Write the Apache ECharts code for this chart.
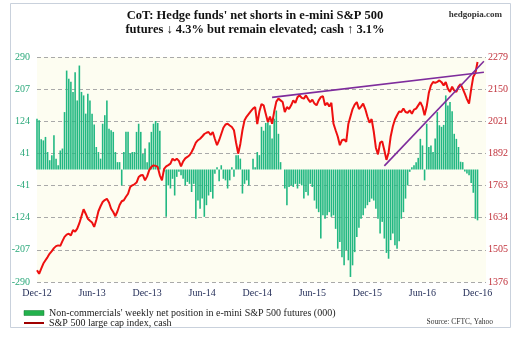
<!DOCTYPE html>
<html>
<head>
<meta charset="utf-8">
<script src="https://cdn.jsdelivr.net/npm/echarts@6/dist/echarts.min.js"></script>
<style>
html,body{margin:0;padding:0;background:#fff;}
#chart{width:520px;height:338px;}
</style>
</head>
<body>
<div id="chart"></div>
<script>
// ---------- data ----------
const weekCount = 213;          // weekly categories on the x axis (from mid-Dec 2012)
const startWeek = Date.UTC(2012, 11, 14);
const monthNames = ['Jan','Feb','Mar','Apr','May','Jun','Jul','Aug','Sep','Oct','Nov','Dec'];
const categories = [];
for (let i = 0; i < weekCount; i++) {
  categories.push(new Date(startWeek + i * 7 * 86400000).toISOString().slice(0, 10));
}

const leftTicks  = [-290, -207, -124, -41, 41, 124, 207, 290];
const rightTicks = [1376, 1505, 1634, 1763, 1892, 2021, 2150, 2279];

// Non-commercials' weekly net position (000)
const netPosition = [
  131,127,78,75,84,45,24,37,88,28,
  11,49,54,148,255,234,226,200,251,178,
  268,200,191,144,195,178,144,116,58,45,
  28,118,140,178,105,101,97,45,19,19,
  -41,45,97,97,41,45,45,97,118,97,
  40,54,19,70,97,118,125,120,100,0,
  -5,-122,-41,-49,-24,-67,-19,-6,-15,-24,
  -41,-32,-37,-58,-37,-127,-80,-101,-75,-122,
  -92,-67,-58,-75,-11,6,-30,11,-24,-28,
  -49,-28,6,-19,37,37,28,-62,-37,-28,
  -41,0,28,6,45,37,110,100,120,122,
  114,80,131,152,92,19,0,-49,-92,-45,
  -41,-45,-37,-49,-37,-41,-75,-58,-67,-37,
  -45,-80,-101,-110,-178,-118,-127,-118,-110,-122,
  -118,-153,-204,-187,-226,-247,-208,-234,-277,-247,
  -213,-174,-150,-127,-118,-100,-92,-84,-75,-80,
  -101,-127,-165,-135,-178,-215,-230,-182,-165,-195,
  -204,-185,-127,-110,-75,-41,-6,6,11,19,
  30,79,62,-28,118,58,62,45,80,148,
  114,110,115,191,165,174,150,92,79,58,
  20,19,-5,-10,-15,-35,-60,-127,-131
];

// S&P 500 large cap index, cash (weekly)
const spx = [
  1423,1409,1430,1450,1463,1476,1490,1500,1512,1520,
  1523,1521,1540,1557,1566,1570,1563,1584,1578,1590,
  1612,1640,1668,1650,1630,1622,1615,1597,1625,1660,
  1680,1697,1705,1710,1695,1670,1657,1640,1660,1685,
  1700,1704,1718,1730,1757,1764,1768,1775,1797,1804,
  1805,1784,1800,1825,1838,1844,1842,1838,1804,1784,
  1830,1840,1845,1851,1871,1864,1871,1862,1840,1860,
  1872,1878,1885,1898,1915,1935,1945,1951,1960,1970,
  1975,1978,1966,1978,1950,1925,1945,1970,1995,2008,
  2011,2004,1998,1985,1935,1891,1930,1985,2025,2040,
  2051,2062,2072,2078,2010,2060,2090,2085,2051,2018,
  2040,2011,2060,2100,2112,2105,2098,2058,2078,2070,
  2085,2105,2095,2118,2125,2115,2112,2125,2110,2098,
  2108,2092,2085,2105,2118,2122,2085,2095,2080,2095,
  2011,1985,1960,1925,1945,1948,1938,2010,2040,2070,
  2088,2098,2070,2080,2092,2070,2040,2015,2030,1980,
  1915,1888,1935,1940,1905,1866,1895,1960,2000,2028,
  2045,2060,2058,2072,2058,2055,2065,2051,2068,2072,
  2085,2098,2080,2045,2080,2135,2165,2179,2175,2179,
  2185,2178,2165,2178,2152,2139,2160,2145,2139,2160,
  2170,2152,2132,2110,2092,2150,2200,2215,2259
];

// purple trend lines: [week index, index level]
const upperTrend = [[111, 2117], [211, 2218]];
const lowerTrend = [[164, 1842], [211, 2262]];

const barName  = "Non-commercials' weekly net position in e-mini S&P 500 futures (000)";
const lineName = 'S&P 500 large cap index, cash';

// ---------- chart ----------
const serif = '"Liberation Serif", "Times New Roman", serif';
const chart = echarts.init(document.getElementById('chart'), null, {renderer: 'canvas'});

chart.setOption({
  animation: false,
  backgroundColor: '#ffffff',
  grid: {
    left: 37, right: 34, top: 57, bottom: 56,
    show: true, backgroundColor: '#fdfdf1', borderWidth: 0
  },
  legend: {
    orient: 'vertical', left: 18, top: 303,
    itemWidth: 20, itemHeight: 5, itemGap: 0,
    textStyle: {fontFamily: serif, fontSize: 10, color: '#222', lineHeight: 10},
    data: [
      {name: barName, icon: 'rect', itemStyle: {color: '#22b14c', borderColor: '#147a33', borderWidth: 0.5}},
      {name: lineName,
       itemStyle: {color: 'rgba(0,0,0,0)', borderColor: 'rgba(0,0,0,0)', borderWidth: 0},
       lineStyle: {color: '#a00000', width: 2}}
    ]
  },
  xAxis: {
    type: 'category', data: categories, boundaryGap: false,
    axisLine: {show: false}, axisTick: {show: false},
    splitLine: {show: false},
    axisLabel: {
      interval: (i) => i % 26 === 0,
      margin: 6,
      fontFamily: serif, fontSize: 10, color: '#26305a',
      formatter: (v) => {
        const d = new Date(v + 'T00:00:00Z');
        return monthNames[d.getUTCMonth()] + '-' + String(d.getUTCFullYear()).slice(2);
      }
    }
  },
  yAxis: [
    {
      type: 'value', position: 'left', min: 0, max: 7, interval: 1,
      axisLine: {show: false}, axisTick: {show: false},
      axisLabel: {formatter: (v) => String(leftTicks[v]), color: '#2aa87a', fontFamily: serif, fontSize: 10, margin: 7},
      splitLine: {show: true, lineStyle: {color: '#a9a9a9', type: [4, 3], width: 1}}
    },
    {
      type: 'value', position: 'right', min: 0, max: 7, interval: 1,
      axisLine: {show: false}, axisTick: {show: false},
      axisLabel: {formatter: (v) => String(rightTicks[v]), color: '#c0303a', fontFamily: serif, fontSize: 10, margin: 2},
      splitLine: {show: false}
    },
    {type: 'value', min: -290, max: 290, show: false},
    {type: 'value', min: 1376, max: 2279, show: false}
  ],
  series: [
    {
      name: barName, type: 'bar', yAxisIndex: 2, data: netPosition,
      barWidth: 1.6, itemStyle: {color: '#22b882'}, z: 2
    },
    {
      name: lineName, type: 'line', yAxisIndex: 3, data: spx,
      symbol: 'none',
      lineStyle: {color: '#ee1010', width: 2}, z: 3
    },
    {
      name: 'upper', type: 'line', yAxisIndex: 3, data: upperTrend,
      symbol: 'none', lineStyle: {color: '#7e2c9c', width: 1.6}, z: 4, silent: true
    },
    {
      name: 'lower', type: 'line', yAxisIndex: 3, data: lowerTrend,
      symbol: 'none', lineStyle: {color: '#7e2c9c', width: 1.6}, z: 4, silent: true
    }
  ],
  graphic: [
    {
      type: 'rect', z: -1, silent: true,
      shape: {x: 10.5, y: 3.5, width: 500, height: 324},
      style: {fill: 'none', stroke: '#c9d1dc', lineWidth: 1}
    },
    {
      type: 'text', x: 255, y: 9, silent: true,
      style: {
        text: "CoT: Hedge funds' net shorts in e-mini S&P 500\nfutures \u2193 4.3% but remain elevated; cash \u2191 3.1%",
        font: 'bold 12.5px ' + serif, fill: '#111', align: 'center', verticalAlign: 'top', lineHeight: 14
      }
    },
    {
      type: 'text', x: 502, y: 10, silent: true,
      style: {text: 'hedgopia.com', font: 'bold 9px ' + serif, fill: '#333', align: 'right', verticalAlign: 'top'}
    },
    {
      type: 'text', x: 493, y: 322, silent: true,
      style: {text: 'Source: CFTC, Yahoo', font: '7.5px ' + serif, fill: '#333', align: 'right', verticalAlign: 'middle'}
    }
  ]
});
</script>
</body>
</html>
